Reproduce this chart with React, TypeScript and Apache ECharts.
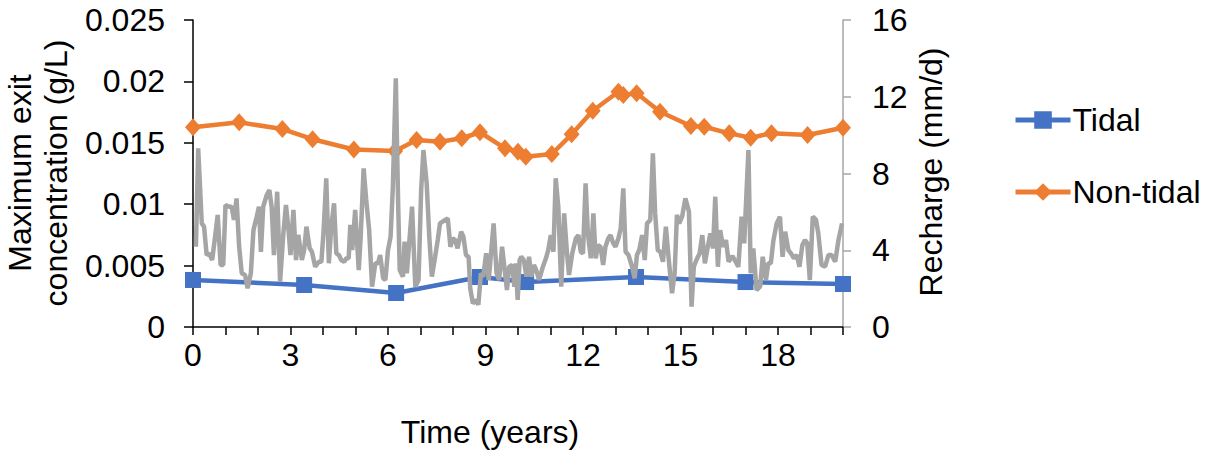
import React, { useEffect, useRef } from "react";
import * as echarts from "echarts";

const tidalYears = [0, 3.42, 6.25, 8.83, 10.25, 13.63, 17.0, 20.0];
const tidalConc = [0.00383, 0.00342, 0.00277, 0.00407, 0.00366, 0.00407, 0.00366, 0.0035];

const nonTidalYears = [0, 1.42, 2.75, 3.68, 4.95, 6.22, 6.88, 7.6, 8.27, 8.83, 9.6, 10.0, 10.24, 11.04, 11.65, 12.3, 13.09, 13.24, 13.65, 14.37, 15.32, 15.73, 16.5, 17.16, 17.8, 18.91, 20.0];
const nonTidalConc = [0.01626, 0.01667, 0.01612, 0.01529, 0.01445, 0.01433, 0.01523, 0.01509, 0.01537, 0.01586, 0.01455, 0.01428, 0.01387, 0.01409, 0.01569, 0.01761, 0.01916, 0.01889, 0.01903, 0.01753, 0.01637, 0.01631, 0.01577, 0.01542, 0.01577, 0.01564, 0.01623];

const rechargeYears = [0.09, 0.16, 0.27, 0.34, 0.42, 0.5, 0.59, 0.68, 0.76, 0.85, 0.93, 1.0, 1.12, 1.19, 1.26, 1.34, 1.42, 1.5, 1.6, 1.68, 1.78, 1.86, 1.96, 2.03, 2.09, 2.16, 2.27, 2.35, 2.42, 2.49, 2.59, 2.68, 2.78, 2.86, 2.93, 3.0, 3.09, 3.17, 3.24, 3.35, 3.42, 3.49, 3.59, 3.66, 3.76, 3.87, 3.95, 4.02, 4.1, 4.18, 4.26, 4.34, 4.41, 4.49, 4.56, 4.65, 4.72, 4.79, 4.84, 4.9, 4.99, 5.1, 5.16, 5.25, 5.33, 5.42, 5.51, 5.61, 5.69, 5.76, 5.85, 5.92, 6.0, 6.08, 6.15, 6.24, 6.31, 6.36, 6.46, 6.51, 6.58, 6.74, 6.84, 6.94, 7.02, 7.09, 7.19, 7.27, 7.35, 7.45, 7.53, 7.6, 7.68, 7.76, 7.84, 7.92, 7.99, 8.07, 8.14, 8.25, 8.32, 8.4, 8.48, 8.53, 8.61, 8.71, 8.78, 8.86, 8.93, 9.02, 9.1, 9.17, 9.25, 9.34, 9.42, 9.51, 9.58, 9.66, 9.73, 9.82, 9.89, 9.93, 9.99, 10.05, 10.1, 10.18, 10.26, 10.34, 10.41, 10.49, 10.56, 10.65, 10.75, 10.86, 10.93, 11.01, 11.09, 11.16, 11.24, 11.33, 11.42, 11.5, 11.57, 11.67, 11.78, 11.86, 11.93, 12.0, 12.08, 12.15, 12.24, 12.32, 12.39, 12.46, 12.54, 12.62, 12.69, 12.78, 12.85, 12.93, 13.0, 13.09, 13.16, 13.24, 13.31, 13.4, 13.51, 13.59, 13.66, 13.73, 13.82, 13.9, 13.97, 14.07, 14.15, 14.22, 14.3, 14.38, 14.46, 14.55, 14.64, 14.74, 14.82, 14.89, 14.96, 15.05, 15.15, 15.26, 15.34, 15.41, 15.49, 15.59, 15.67, 15.75, 15.84, 15.92, 16.0, 16.07, 16.15, 16.22, 16.31, 16.4, 16.48, 16.6, 16.78, 16.88, 16.96, 17.09, 17.16, 17.24, 17.34, 17.45, 17.53, 17.63, 17.7, 17.78, 17.86, 17.96, 18.06, 18.14, 18.22, 18.32, 18.4, 18.49, 18.58, 18.66, 18.75, 18.83, 18.9, 18.98, 19.07, 19.17, 19.24, 19.34, 19.45, 19.55, 19.65, 19.76, 19.86, 19.97];
const rechargeValues = [4.18, 9.31, 5.4, 5.23, 3.75, 3.84, 3.49, 4.71, 5.84, 3.23, 3.23, 6.36, 6.27, 6.27, 5.58, 6.7, 4.18, 2.8, 2.71, 2.02, 2.8, 5.05, 5.75, 6.27, 3.92, 6.27, 6.88, 7.14, 6.27, 3.75, 7.05, 2.36, 4.88, 6.36, 5.23, 3.75, 6.1, 3.49, 4.8, 3.49, 4.01, 5.23, 4.1, 3.92, 3.14, 3.4, 3.4, 5.05, 7.75, 3.32, 5.32, 6.45, 3.84, 3.75, 3.49, 3.4, 3.58, 3.58, 5.32, 4.01, 6.1, 2.97, 4.71, 8.27, 6.62, 5.05, 2.1, 3.32, 3.32, 3.75, 2.54, 2.45, 4.01, 4.71, 7.31, 12.96, 6.62, 2.97, 2.62, 4.45, 2.8, 6.27, 2.1, 2.45, 7.14, 9.22, 7.49, 4.71, 2.62, 3.66, 4.53, 5.4, 5.49, 5.58, 5.66, 4.18, 4.62, 4.53, 4.1, 4.97, 4.71, 3.75, 3.66, 2.02, 1.23, 1.41, 1.15, 2.8, 2.62, 3.84, 2.45, 3.84, 5.4, 2.8, 2.45, 4.18, 3.14, 1.93, 3.14, 3.23, 2.1, 3.32, 1.41, 3.49, 3.66, 3.49, 2.62, 3.66, 2.62, 3.23, 2.97, 2.45, 3.06, 3.58, 4.01, 4.79, 3.92, 7.75, 6.27, 2.1, 5.92, 4.01, 2.71, 3.84, 4.62, 4.79, 3.92, 3.84, 7.49, 4.88, 3.58, 5.92, 3.58, 4.27, 4.18, 3.23, 4.18, 4.62, 4.79, 4.36, 4.18, 4.62, 5.14, 7.23, 3.92, 3.75, 3.14, 2.54, 3.75, 4.01, 4.79, 3.49, 5.4, 5.58, 9.05, 5.92, 4.01, 3.92, 3.4, 5.23, 3.49, 1.76, 2.8, 5.84, 5.4, 5.75, 6.7, 6.01, 1.06, 3.14, 3.49, 3.84, 4.79, 3.32, 4.18, 4.88, 4.1, 6.79, 3.14, 5.05, 4.18, 4.53, 3.4, 3.7, 3.14, 5.75, 4.36, 9.22, 2.8, 4.1, 1.93, 2.1, 3.66, 2.45, 3.32, 3.32, 4.53, 5.4, 5.75, 3.66, 4.97, 4.01, 3.84, 3.58, 3.75, 3.14, 4.27, 4.53, 4.36, 2.45, 5.75, 5.58, 4.88, 3.23, 3.14, 3.75, 3.75, 3.4, 4.53, 5.4];

const FONT = "'Liberation Sans', Arial, sans-serif";
const FS = 32;

const zip = (xs: number[], ys: number[]) => xs.map((x, i) => [x, ys[i]]);

export default function App() {
  const ref = useRef<HTMLDivElement>(null);
  useEffect(() => {
    const chart = echarts.init(ref.current!, null, { renderer: "svg" });
    chart.setOption({
      animation: false,
      backgroundColor: "#ffffff",
      textStyle: { fontFamily: FONT },
      grid: { left: 193, right: 369, top: 20, bottom: 128, containLabel: false },
      legend: {
        data: ["Tidal", "Non-tidal"],
        orient: "vertical",
        left: 1013,
        top: 104,
        itemWidth: 55,
        itemHeight: 22,
        itemGap: 40,
        padding: 0,
        lineStyle: { width: 5 },
        textStyle: { fontSize: FS, color: "#000", fontFamily: FONT, padding: [0, 0, 0, -3] },
      },
      xAxis: {
        type: "value",
        min: 0,
        max: 20,
        interval: 1,
        splitLine: { show: false },
        axisLine: { lineStyle: { color: "#000", width: 1.5 } },
        axisTick: { show: true, length: 8, lineStyle: { color: "#000", width: 1.5 } },
        axisLabel: {
          fontSize: FS,
          color: "#000",
          margin: 12,
          fontFamily: FONT,
          formatter: (v: number) => (v % 3 === 0 && v < 20 ? String(v) : ""),
        },
      },
      yAxis: [
        {
          type: "value",
          min: 0,
          max: 0.025,
          interval: 0.005,
          splitLine: { show: false },
          axisLine: { show: true, lineStyle: { color: "#000", width: 1.5 } },
          axisTick: { show: true, length: 9, lineStyle: { color: "#000", width: 1.5 } },
          axisLabel: {
            fontSize: FS,
            color: "#000",
            margin: 28,
            fontFamily: FONT,
            formatter: (v: number) => String(+v.toFixed(3)),
          },
        },
        {
          type: "value",
          position: "right",
          min: 0,
          max: 16,
          interval: 4,
          splitLine: { show: false },
          axisLine: { show: true, lineStyle: { color: "#A6A6A6", width: 1.5 } },
          axisTick: { show: true, length: 8, lineStyle: { color: "#A6A6A6", width: 1.5 } },
          axisLabel: { fontSize: FS, color: "#000", margin: 29, fontFamily: FONT },
        },
      ],
      series: [
        {
          name: "Tidal",
          type: "line",
          data: zip(tidalYears, tidalConc),
          yAxisIndex: 0,
          symbol: "rect",
          symbolSize: 16,
          color: "#4472C4",
          lineStyle: { width: 4.5, color: "#4472C4" },
          itemStyle: { color: "#4472C4" },
        },
        {
          name: "Non-tidal",
          type: "line",
          data: zip(nonTidalYears, nonTidalConc),
          yAxisIndex: 0,
          symbol: "diamond",
          symbolSize: [16, 18],
          color: "#ED7D31",
          lineStyle: { width: 4.5, color: "#ED7D31" },
          itemStyle: { color: "#ED7D31" },
        },
        {
          name: "Recharge",
          type: "line",
          data: zip(rechargeYears, rechargeValues),
          yAxisIndex: 1,
          showSymbol: false,
          symbol: "none",
          z: 5,
          lineStyle: { width: 4.5, color: "#A5A5A5" },
          itemStyle: { color: "#A5A5A5" },
        },
      ],
      graphic: [
        {
          type: "text",
          x: 38,
          y: 173,
          rotation: Math.PI / 2,
          style: {
            text: "Maximum exit\nconcentration (g/L)",
            fontSize: FS,
            fontFamily: FONT,
            fill: "#000",
            align: "center",
            verticalAlign: "middle",
            lineHeight: 36,
          },
        },
        {
          type: "text",
          x: 931,
          y: 172,
          rotation: Math.PI / 2,
          style: {
            text: "Recharge (mm/d)",
            fontSize: FS,
            fontFamily: FONT,
            fill: "#000",
            align: "center",
            verticalAlign: "middle",
          },
        },
        {
          type: "text",
          x: 490,
          y: 432,
          style: {
            text: "Time (years)",
            fontSize: FS,
            fontFamily: FONT,
            fill: "#000",
            align: "center",
            verticalAlign: "middle",
          },
        },
      ],
    });
    return () => chart.dispose();
  }, []);
  return (
    <div
      ref={ref}
      style={{ position: "fixed", left: 0, top: 0, width: 1212, height: 455, background: "#fff" }}
    />
  );
}
